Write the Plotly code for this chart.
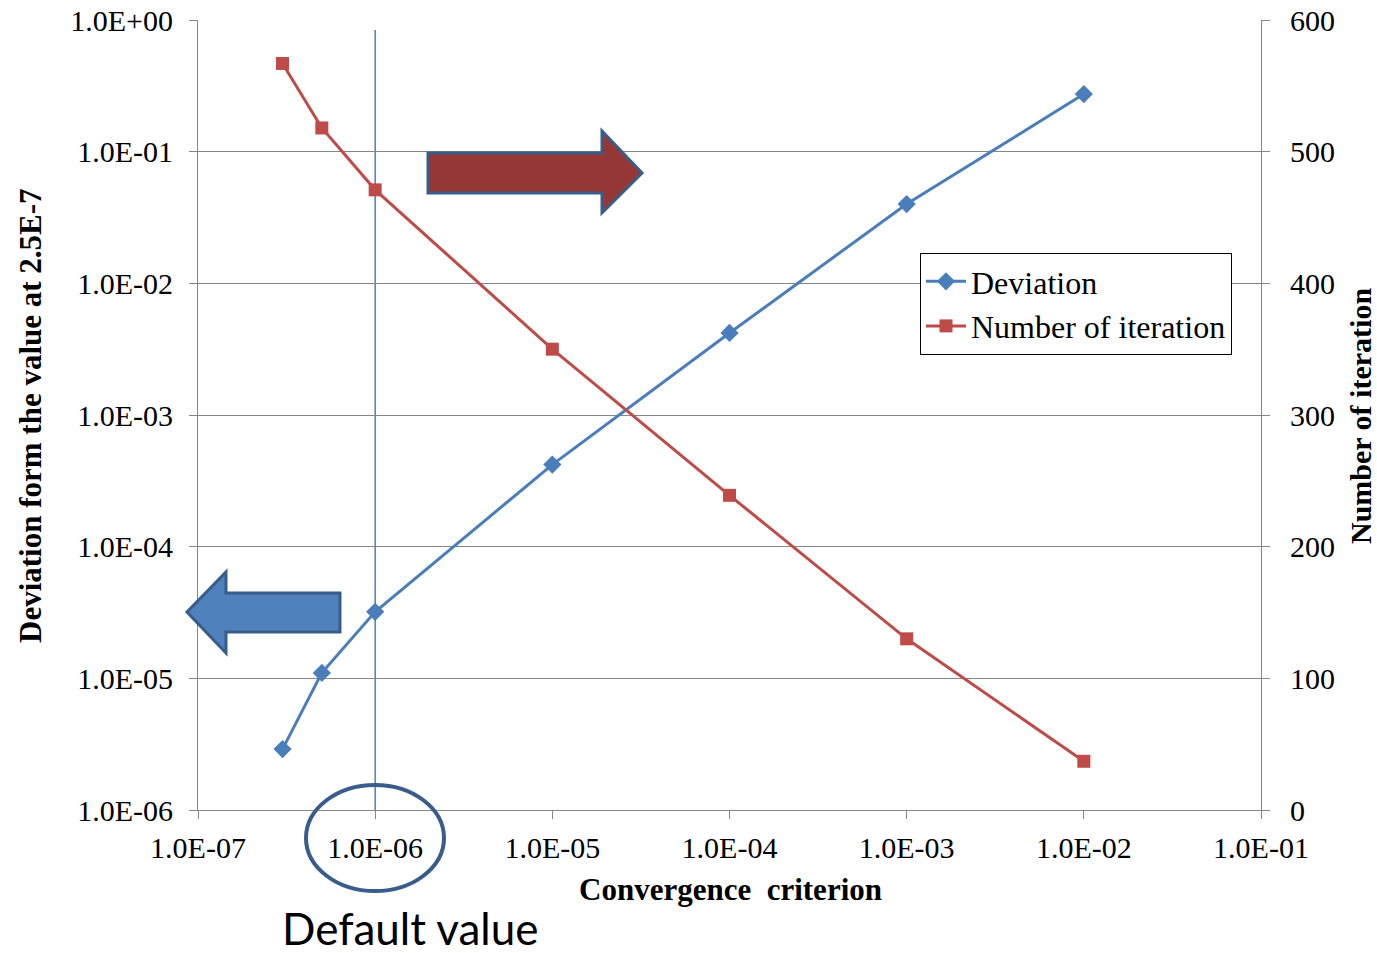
import plotly.graph_objects as go

criterion = [3e-7, 5e-7, 1e-6, 1e-5, 1e-4, 1e-3, 1e-2]
deviation = [2.9e-6, 1.1e-5, 3.2e-5, 4.2e-4, 4.2e-3, 4.0e-2, 2.74e-1]
iterations = [567, 518, 471, 350, 239, 130, 37]

x_tickvals = [1e-7, 1e-6, 1e-5, 1e-4, 1e-3, 1e-2, 1e-1]
x_ticktext = ["1.0E-07", "1.0E-06", "1.0E-05", "1.0E-04", "1.0E-03", "1.0E-02", "1.0E-01"]
y_tickvals = [1e-6, 1e-5, 1e-4, 1e-3, 1e-2, 1e-1, 1e0]
y_ticktext = ["1.0E-06", "1.0E-05", "1.0E-04", "1.0E-03", "1.0E-02", "1.0E-01", "1.0E+00"]
default_value = 1e-6

L, R, T, B = 198, 1261, 20, 810
W, H = 1377, 953

def px(x):
    return (x - L) / (R - L)

def py(y):
    return (B - y) / (B - T)

serif = "Liberation Serif"
fig = go.Figure()
fig.add_trace(go.Scatter(
    x=criterion, y=deviation, name="Deviation", mode="lines+markers",
    line=dict(color="#4a7ebb", width=3),
    marker=dict(symbol="diamond", size=14, color="#4a7ebb"),
    yaxis="y"))
fig.add_trace(go.Scatter(
    x=criterion, y=iterations, name="Number of iteration", mode="lines+markers",
    line=dict(color="#be4b48", width=3),
    marker=dict(symbol="square", size=13, color="#be4b48"),
    yaxis="y2"))

shapes = []
shapes.append(dict(type="line", xref="x", yref="paper", x0=default_value, x1=default_value,
                   y0=0, y1=py(30), line=dict(color="#4a7ebb", width=1.5), layer="below"))

def poly(pts):
    return "M " + " L ".join(f"{px(a):.5f},{py(b):.5f}" for a, b in pts) + " Z"

red_pts = [(428, 153), (602, 153), (602, 131), (642, 173), (602, 213), (602, 193), (428, 193)]
shapes.append(dict(type="path", xref="paper", yref="paper", path=poly(red_pts),
                   fillcolor="#953735", line=dict(color="#385d8a", width=3)))
blue_pts = [(340, 593), (226, 593), (226, 572), (187, 612), (226, 653), (226, 632), (340, 632)]
shapes.append(dict(type="path", xref="paper", yref="paper", path=poly(blue_pts),
                   fillcolor="#4f81bd", line=dict(color="#385d8a", width=3)))
shapes.append(dict(type="circle", xref="paper", yref="paper",
                   x0=px(306), x1=px(444), y0=py(785), y1=py(891),
                   line=dict(color="#385d8a", width=4)))

annotations = [
    dict(text="<b>Convergence  criterion</b>", xref="paper", yref="paper",
         x=px(730), y=py(889), xanchor="center", yanchor="middle", showarrow=False,
         font=dict(family=serif, size=31, color="black")),
    dict(text="<b>Deviation form the value at 2.5E-7</b>", xref="paper", yref="paper",
         x=px(30), y=py(416), xanchor="center", yanchor="middle", showarrow=False,
         textangle=-90, font=dict(family=serif, size=31, color="black")),
    dict(text="<b>Number of iteration</b>", xref="paper", yref="paper",
         x=px(1360), y=py(416), xanchor="center", yanchor="middle", showarrow=False,
         textangle=-90, font=dict(family=serif, size=30, color="black")),
    dict(text="Default value", xref="paper", yref="paper",
         x=px(410), y=py(928), xanchor="center", yanchor="middle", showarrow=False,
         font=dict(family="Lato", size=44, color="black")),
]

fig.update_layout(
    width=W, height=H,
    margin=dict(l=L, r=W - R, t=T, b=H - B, pad=0),
    paper_bgcolor="white", plot_bgcolor="white",
    font=dict(family=serif, size=30, color="black"),
    showlegend=True,
    legend=dict(x=px(920), y=py(253), xanchor="left", yanchor="top",
                bordercolor="black", borderwidth=1, bgcolor="white",
                font=dict(family=serif, size=32, color="black"),
                itemwidth=40, tracegroupgap=0),
    xaxis=dict(type="log", range=[-7, -1], tickvals=x_tickvals, ticktext=x_ticktext,
               showgrid=False, showline=True, linecolor="#868686", linewidth=1,
               ticks="outside", ticklen=8, tickcolor="#868686", zeroline=False,
               automargin=False, ticklabelstandoff=3,
               tickfont=dict(family=serif, size=30)),
    yaxis=dict(type="log", range=[-6, 0], tickvals=y_tickvals, ticktext=y_ticktext,
               showgrid=True, gridcolor="#868686", gridwidth=1,
               showline=True, linecolor="#868686", linewidth=1,
               ticks="outside", ticklen=8, tickcolor="#868686", zeroline=False,
               automargin=False, ticklabelstandoff=10,
               tickfont=dict(family=serif, size=30)),
    yaxis2=dict(overlaying="y", side="right", range=[0, 600], dtick=100,
                showgrid=False, showline=True, linecolor="#868686", linewidth=1,
                ticks="outside", ticklen=8, tickcolor="#868686", zeroline=False,
                automargin=False, ticklabelstandoff=14,
                tickfont=dict(family=serif, size=30)),
    shapes=shapes,
    annotations=annotations,
)

fig.write_html("out.html")
